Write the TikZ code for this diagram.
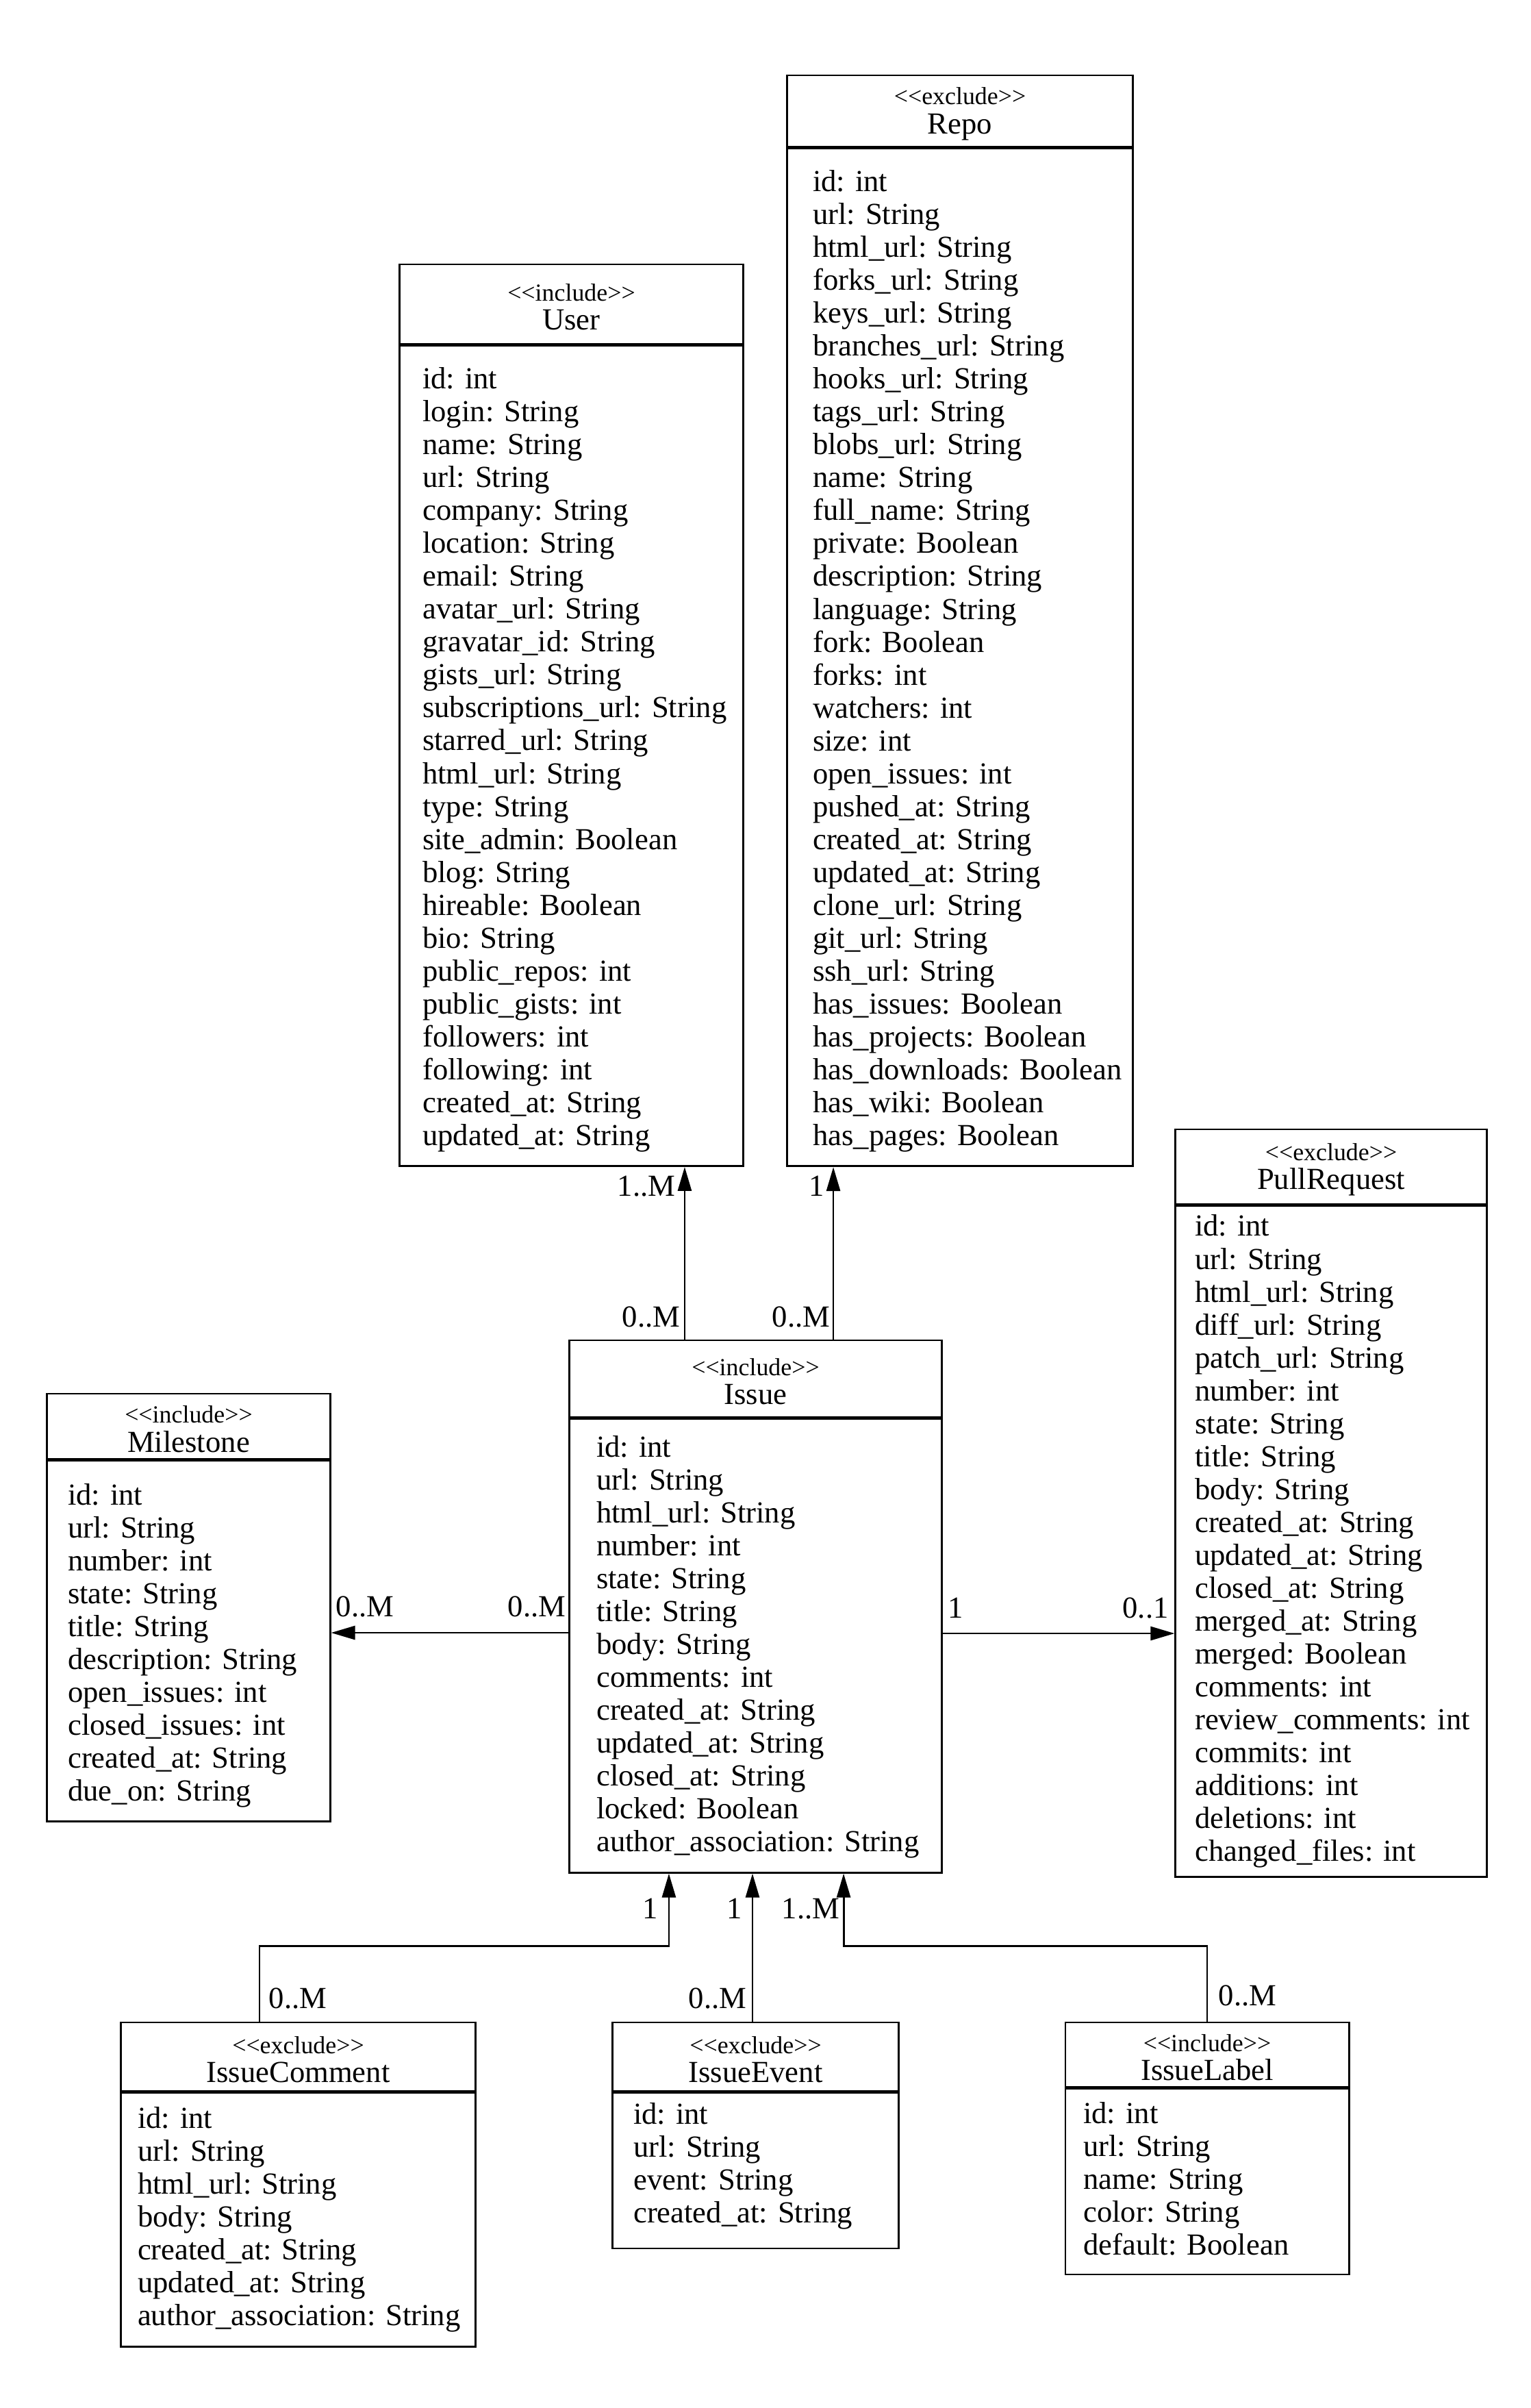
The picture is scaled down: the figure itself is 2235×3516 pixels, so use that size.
\documentclass[tikz,border=0pt]{standalone}
\usepackage{fontspec}
\setmainfont{Liberation Serif}
\usetikzlibrary{arrows.meta,positioning}

\newcommand{\stereo}[1]{{\fontsize{10.2}{12}\selectfont\rule{0pt}{9.5pt}<\kern0pt<#1>\kern0pt>}}

\tikzset{
  classhead/.style={draw, line width=0.8pt, align=center, inner sep=0pt},
  classbody/.style={draw, line width=0.8pt, inner sep=0pt},
  attrs/.style={align=left, inner sep=0pt, anchor=west},
  mult/.style={inner sep=0pt},
  assoc/.style={line width=0.8pt, -{Triangle[length=0.35cm,width=0.2cm]}}
}

\begin{document}
\begin{tikzpicture}[x=0.01cm,y=-0.01cm,font=\fontsize{12.7}{13.66}\selectfont]
\useasboundingbox (0,0) rectangle (2235,3516);

% Repo
\node[classhead, minimum width=5.04cm, minimum height=1.04cm] (repohead) at (1402,162) {\stereo{exclude}\\[-1.5pt]Repo};
\node[classbody, minimum width=5.04cm, minimum height=14.85cm, below=0pt of repohead] (repobody) {};
\node[attrs] (repoattrs) at ([xshift=0.38cm,yshift=-0.056cm]repobody.west) {id: int\\url: String\\html\_url: String\\forks\_url: String\\keys\_url: String\\branches\_url: String\\hooks\_url: String\\tags\_url: String\\blobs\_url: String\\name: String\\full\_name: String\\private: Boolean\\description: String\\language: String\\fork: Boolean\\forks: int\\watchers: int\\size: int\\open\_issues: int\\pushed\_at: String\\created\_at: String\\updated\_at: String\\clone\_url: String\\git\_url: String\\ssh\_url: String\\has\_issues: Boolean\\has\_projects: Boolean\\has\_downloads: Boolean\\has\_wiki: Boolean\\has\_pages: Boolean};

% User
\node[classhead, minimum width=5.01cm, minimum height=1.16cm] (userhead) at (834.5,444) {\stereo{include}\\[-1.5pt]User};
\node[classbody, minimum width=5.01cm, minimum height=11.97cm, below=0pt of userhead] (userbody) {};
\node[attrs] (userattrs) at ([xshift=0.34cm,yshift=-0.056cm]userbody.west) {id: int\\login: String\\name: String\\url: String\\company: String\\location: String\\email: String\\avatar\_url: String\\gravatar\_id: String\\gists\_url: String\\subscriptions\_url: String\\starred\_url: String\\html\_url: String\\type: String\\site\_admin: Boolean\\blog: String\\hireable: Boolean\\bio: String\\public\_repos: int\\public\_gists: int\\followers: int\\following: int\\created\_at: String\\updated\_at: String};

% PullRequest
\node[classhead, minimum width=4.54cm, minimum height=1.09cm] (prhead) at (1944,1703.5) {\stereo{exclude}\\[-1.5pt]PullRequest};
\node[classbody, minimum width=4.54cm, minimum height=9.79cm, below=0pt of prhead] (prbody) {};
\node[attrs] (prattrs) at ([xshift=0.29cm]prbody.west) {id: int\\url: String\\html\_url: String\\diff\_url: String\\patch\_url: String\\number: int\\state: String\\title: String\\body: String\\created\_at: String\\updated\_at: String\\closed\_at: String\\merged\_at: String\\merged: Boolean\\comments: int\\review\_comments: int\\commits: int\\additions: int\\deletions: int\\changed\_files: int};

% Issue
\node[classhead, minimum width=5.43cm, minimum height=1.12cm] (issuehead) at (1103.5,2013) {\stereo{include}\\[-1.5pt]Issue};
\node[classbody, minimum width=5.43cm, minimum height=6.62cm, below=0pt of issuehead] (issuebody) {};
\node[attrs] (issueattrs) at ([xshift=0.40cm,yshift=-0.02cm]issuebody.west) {id: int\\url: String\\html\_url: String\\number: int\\state: String\\title: String\\body: String\\comments: int\\created\_at: String\\updated\_at: String\\closed\_at: String\\locked: Boolean\\author\_association: String};

% Milestone
\node[classhead, minimum width=4.13cm, minimum height=0.95cm] (milestonehead) at (275.5,2082.5) {\stereo{include}\\[-1.5pt]Milestone};
\node[classbody, minimum width=4.13cm, minimum height=5.26cm, below=0pt of milestonehead] (milestonebody) {};
\node[attrs] (milestoneattrs) at ([xshift=0.31cm,yshift=-0.067cm]milestonebody.west) {id: int\\url: String\\number: int\\state: String\\title: String\\description: String\\open\_issues: int\\closed\_issues: int\\created\_at: String\\due\_on: String};

% IssueComment
\node[classhead, minimum width=5.17cm, minimum height=1.00cm] (commenthead) at (435.5,3003) {\stereo{exclude}\\[-1.5pt]IssueComment};
\node[classbody, minimum width=5.17cm, minimum height=3.70cm, below=0pt of commenthead] (commentbody) {};
\node[attrs] (commentattrs) at ([xshift=0.25cm]commentbody.west) {id: int\\url: String\\html\_url: String\\body: String\\created\_at: String\\updated\_at: String\\author\_association: String};

% IssueEvent
\node[classhead, minimum width=4.17cm, minimum height=1.00cm] (eventhead) at (1103.5,3003) {\stereo{exclude}\\[-1.5pt]IssueEvent};
\node[classbody, minimum width=4.17cm, minimum height=2.27cm, below=0pt of eventhead] (eventbody) {};
\node[attrs] (eventattrs) at ([xshift=0.31cm,yshift=0.067cm]eventbody.west) {id: int\\url: String\\event: String\\created\_at: String};

% IssueLabel
\node[classhead, minimum width=4.14cm, minimum height=0.94cm] (labelhead) at (1763,3000) {\stereo{include}\\[-1.5pt]IssueLabel};
\node[classbody, minimum width=4.14cm, minimum height=2.71cm, below=0pt of labelhead] (labelbody) {};
\node[attrs] (labelattrs) at ([xshift=0.27cm,yshift=0.045cm]labelbody.west) {id: int\\url: String\\name: String\\color: String\\default: Boolean};

% associations
\draw[assoc] ([xshift=-1.035cm]issuehead.north) -- ([xshift=-1.035cm]issuehead.north |- userbody.south);
\draw[assoc] ([xshift=1.135cm]issuehead.north) -- ([xshift=1.135cm]issuehead.north |- repobody.south);
\draw[assoc] ([yshift=0.19cm]issuebody.west) -- ([yshift=0.19cm]issuebody.west -| milestonebody.east);
\draw[assoc] ([yshift=0.18cm]issuebody.east) -- ([yshift=0.18cm]issuebody.east -| prbody.west);
\draw[assoc] ([xshift=-0.565cm]commenthead.north) -- ++(0,-110) -| ([xshift=-1.265cm]issuebody.south);
\draw[assoc] ([xshift=-0.045cm]eventhead.north) -- ([xshift=-0.045cm]issuebody.south);
\draw[assoc] (labelhead.north) -- ++(0,-110) -| ([xshift=1.285cm]issuebody.south);

% multiplicities
\node[mult] (useronemany) at (944,1732) {1..M};
\node[mult] (repoone) at (1193,1732) {1};
\node[mult] (issueuser) at (951,1923) {0..M};
\node[mult] (issuerepo) at (1170,1923) {0..M};
\node[mult] (milestonemany) at (533,2346) {0..M};
\node[mult] (issuemilestone) at (784,2346) {0..M};
\node[mult] (issuepr) at (1396,2348) {1};
\node[mult] (przeroone) at (1673,2348) {0..1};
\node[mult] (issuecomment) at (950,2787) {1};
\node[mult] (issueevent) at (1073,2787) {1};
\node[mult] (issuelabel) at (1184,2787) {1..M};
\node[mult] (commentmany) at (435,2918) {0..M};
\node[mult] (eventmany) at (1048,2918) {0..M};
\node[mult] (labelmany) at (1822,2914) {0..M};
\end{tikzpicture}
\end{document}
